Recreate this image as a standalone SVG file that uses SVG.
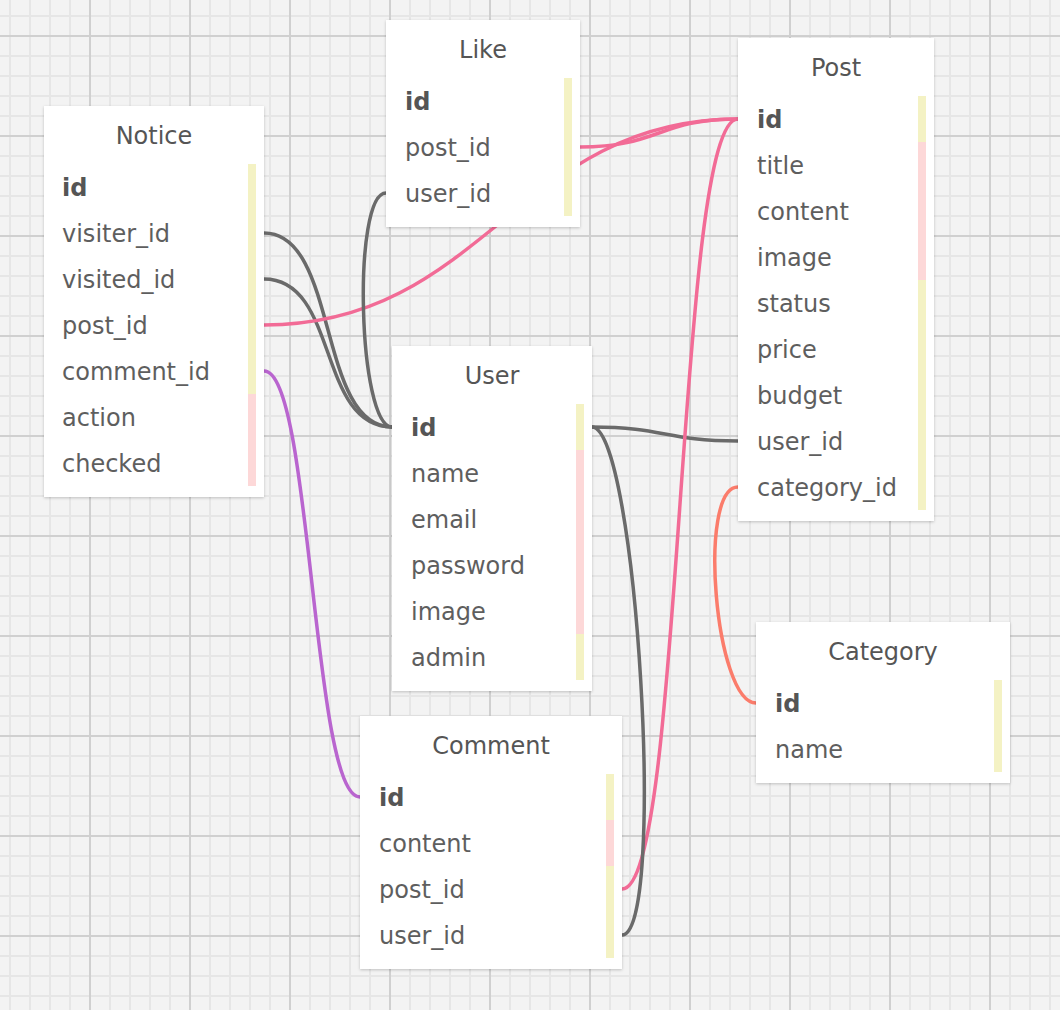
<svg xmlns="http://www.w3.org/2000/svg" width="1060" height="1010" viewBox="0 0 1060 1010">
<defs>
<pattern id="grid" x="9" y="15" width="100" height="100" patternUnits="userSpaceOnUse">
<rect width="100" height="100" fill="#f3f3f3"/>
<g fill="#e6e6e6">
<rect x="0" y="0" width="2" height="100"/><rect x="20" y="0" width="2" height="100"/><rect x="40" y="0" width="2" height="100"/><rect x="60" y="0" width="2" height="100"/>
<rect x="0" y="0" width="100" height="2"/><rect x="0" y="40" width="100" height="2"/><rect x="0" y="60" width="100" height="2"/><rect x="0" y="80" width="100" height="2"/>
</g>
<g fill="#d0d0d0">
<rect x="80" y="0" width="2" height="100"/>
<rect x="0" y="20" width="100" height="2"/>
</g>
</pattern>
<filter id="shadow" x="-10%" y="-10%" width="120%" height="120%">
<feDropShadow dx="0" dy="1" stdDeviation="1.5" flood-color="#000" flood-opacity="0.22"/>
</filter>
</defs>
<style>
.box{fill:#ffffff;filter:url(#shadow)}
.title{font-family:"DejaVu Sans",Verdana,sans-serif;font-size:24px;fill:#555555;text-anchor:middle}
.row{font-family:"DejaVu Sans",Verdana,sans-serif;font-size:24px;fill:#5e5e5e}
.pk{font-weight:bold;fill:#555555}
.y{fill:#f4f2c4}
.p{fill:#fdd8d8}
.link{fill:none;stroke-width:3.5;stroke-linecap:round}
.gray{stroke:#6a6a6a}
.pink{stroke:#f26b96}
.purple{stroke:#b965cf}
.coral{stroke:#fb7c6b}
</style>
<rect width="1060" height="1010" fill="url(#grid)"/>

<g id="connectors">
<path class="link gray" d="M264,233 C339,233 317,427 392,427"/>
<path class="link gray" d="M264,279 C339,279 317,427 392,427"/>
<path class="link pink" d="M264,325 C484,325 518,119 738,119"/>
<path class="link purple" d="M264,371 C312,371 312,797 360,797"/>
<path class="link pink" d="M580,147 C659,147 659,119 738,119"/>
<path class="link gray" d="M386,193 C352,193 358,427 392,427"/>
<path class="link gray" d="M592,427 C665,427 665,441 738,441"/>
<path class="link coral" d="M738,487 C697,487 715,703 756,703"/>
<path class="link pink" d="M622,889 C684,889 676,119 738,119"/>
<path class="link gray" d="M622,935 C667,935 637,427 592,427"/>
</g>

<g id="node-notice">
<rect class="box" x="44" y="106" width="220" height="391"/>
<text class="title" x="154" y="144">Notice</text>
<rect class="y" x="248" y="164" width="8" height="230"/>
<rect class="p" x="248" y="394" width="8" height="92"/>
<text class="row pk" x="62" y="196">id</text>
<text class="row" x="62" y="242">visiter_id</text>
<text class="row" x="62" y="288">visited_id</text>
<text class="row" x="62" y="334">post_id</text>
<text class="row" x="62" y="380">comment_id</text>
<text class="row" x="62" y="426">action</text>
<text class="row" x="62" y="472">checked</text>
</g>

<g id="node-like">
<rect class="box" x="386" y="20" width="194" height="207"/>
<text class="title" x="483" y="58">Like</text>
<rect class="y" x="564" y="78" width="8" height="138"/>
<text class="row pk" x="405" y="110">id</text>
<text class="row" x="405" y="156">post_id</text>
<text class="row" x="405" y="202">user_id</text>
</g>

<g id="node-post">
<rect class="box" x="738" y="38" width="196" height="483"/>
<text class="title" x="836" y="76">Post</text>
<rect class="y" x="918" y="96" width="8" height="46"/>
<rect class="p" x="918" y="142" width="8" height="138"/>
<rect class="y" x="918" y="280" width="8" height="230"/>
<text class="row pk" x="757" y="128">id</text>
<text class="row" x="757" y="174">title</text>
<text class="row" x="757" y="220">content</text>
<text class="row" x="757" y="266">image</text>
<text class="row" x="757" y="312">status</text>
<text class="row" x="757" y="358">price</text>
<text class="row" x="757" y="404">budget</text>
<text class="row" x="757" y="450">user_id</text>
<text class="row" x="757" y="496">category_id</text>
</g>

<g id="node-user">
<rect class="box" x="392" y="346" width="200" height="345"/>
<text class="title" x="492" y="384">User</text>
<rect class="y" x="576" y="404" width="8" height="46"/>
<rect class="p" x="576" y="450" width="8" height="184"/>
<rect class="y" x="576" y="634" width="8" height="46"/>
<text class="row pk" x="411" y="436">id</text>
<text class="row" x="411" y="482">name</text>
<text class="row" x="411" y="528">email</text>
<text class="row" x="411" y="574">password</text>
<text class="row" x="411" y="620">image</text>
<text class="row" x="411" y="666">admin</text>
</g>

<g id="node-comment">
<rect class="box" x="360" y="716" width="262" height="253"/>
<text class="title" x="491" y="754">Comment</text>
<rect class="y" x="606" y="774" width="8" height="46"/>
<rect class="p" x="606" y="820" width="8" height="46"/>
<rect class="y" x="606" y="866" width="8" height="92"/>
<text class="row pk" x="379" y="806">id</text>
<text class="row" x="379" y="852">content</text>
<text class="row" x="379" y="898">post_id</text>
<text class="row" x="379" y="944">user_id</text>
</g>

<g id="node-category">
<rect class="box" x="756" y="622" width="254" height="161"/>
<text class="title" x="883" y="660">Category</text>
<rect class="y" x="994" y="680" width="8" height="92"/>
<text class="row pk" x="775" y="712">id</text>
<text class="row" x="775" y="758">name</text>
</g>
</svg>
